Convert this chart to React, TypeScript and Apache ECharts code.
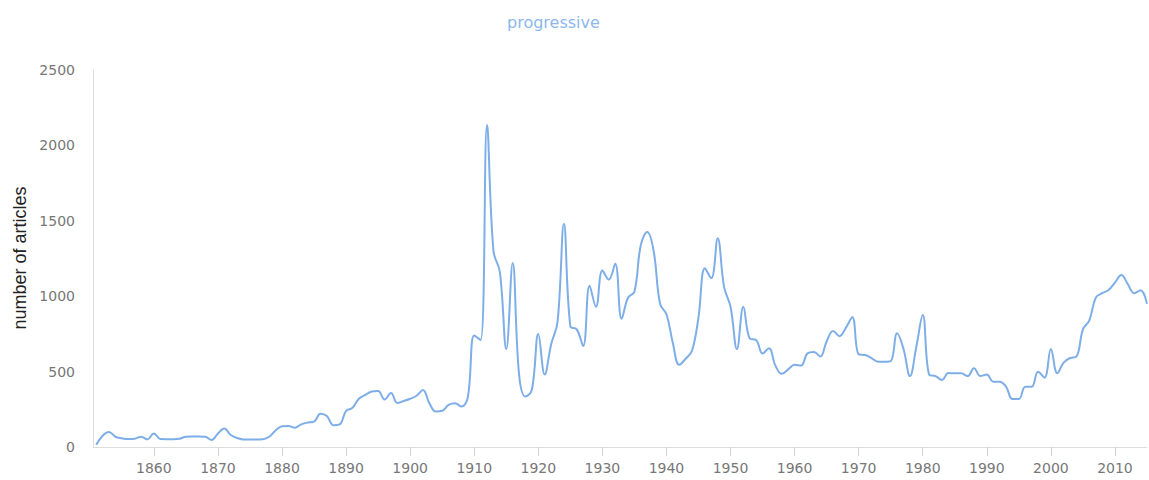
import React, { useEffect, useRef } from "react";
import * as echarts from "echarts";

// Number of articles per year, starting with 1851 (one value per year up to 2015)
const firstYear = 1851;
const articleCounts: number[] = [
  // 1851-1860
  15, 75, 100, 68, 58, 53, 55, 68, 50, 90,
  // 1861-1870
  53, 52, 52, 55, 68, 70, 70, 68, 46, 90,
  // 1871-1880
  122, 80, 60, 50, 50, 50, 52, 68, 110, 138,
  // 1881-1890
  140, 128, 150, 162, 168, 220, 205, 145, 150, 240,
  // 1891-1900
  260, 320, 345, 368, 372, 315, 358, 292, 305, 320,
  // 1901-1910
  340, 378, 290, 235, 240, 280, 290, 268, 330, 740,
  // 1911-1920
  710, 2135, 1300, 1160, 650, 1220, 480, 335, 380, 750,
  // 1921-1930
  480, 680, 830, 1480, 800, 780, 670, 1070, 930, 1170,
  // 1931-1940
  1110, 1215, 850, 990, 1030, 1340, 1425, 1300, 950, 880,
  // 1941-1950
  690, 545, 585, 640, 860, 1185, 1120, 1385, 1060, 930,
  // 1951-1960
  650, 930, 720, 710, 620, 655, 540, 485, 515, 545,
  // 1961-1970
  540, 620, 630, 600, 700, 770, 735, 790, 860, 615,
  // 1971-1980
  610, 590, 566, 566, 570, 754, 650, 470, 665, 875,
  // 1981-1990
  480, 470, 445, 490, 489, 489, 470, 522, 470, 480,
  // 1991-2000
  433, 433, 400, 318, 318, 400, 400, 499, 460, 650,
  // 2001-2010
  489, 560, 590, 600, 780, 840, 990, 1020, 1041, 1090,
  // 2011-2015
  1140, 1080, 1020, 1040, 950,
];

const tickYears: number[] = [1860, 1870, 1880, 1890, 1900, 1910, 1920, 1930, 1940, 1950, 1960, 1970, 1980, 1990, 2000, 2010];
const yTicks: number[] = [0, 500, 1000, 1500, 2000, 2500];

const chartTitle = "progressive";
const yAxisTitle = "number of articles";

export default function App() {
  const ref = useRef<HTMLDivElement>(null);

  useEffect(() => {
    if (!ref.current) return;
    const chart = echarts.init(ref.current, undefined, { renderer: "svg" });
    const seriesData = articleCounts.map((v, i) => [firstYear + i, v]);
    const labelFont = "DejaVu Sans";
    chart.setOption({
      animation: false,
      backgroundColor: "#ffffff",
      title: {
        text: chartTitle,
        left: 502,
        top: 9,
        textStyle: {
          color: "#8db7ec",
          fontSize: 16,
          fontWeight: "normal",
          fontFamily: labelFont,
        },
      },
      grid: { left: 93, right: 2, top: 70, bottom: 33, containLabel: false },
      xAxis: {
        type: "value",
        min: 1850.5,
        max: 2015,
        axisLine: { show: true, onZero: false, lineStyle: { color: "#dddddd", width: 1 } },
        axisTick: {
          show: true,
          length: 9,
          customValues: tickYears,
          lineStyle: { color: "#d0d0d0" },
        },
        axisLabel: {
          customValues: tickYears,
          margin: 14,
          color: "#777777",
          fontSize: 14,
          fontFamily: labelFont,
          formatter: (v: number) => String(v),
        },
        splitLine: { show: false },
      },
      yAxis: {
        type: "value",
        min: yTicks[0],
        max: yTicks[yTicks.length - 1],
        interval: 500,
        axisLine: { show: true, onZero: false, lineStyle: { color: "#dddddd", width: 1 } },
        axisTick: { show: false },
        axisLabel: {
          margin: 18,
          color: "#777777",
          fontSize: 14,
          fontFamily: labelFont,
          formatter: (v: number) => String(v),
        },
        splitLine: { show: false },
      },
      graphic: [
        {
          type: "text",
          x: 20,
          y: 258,
          rotation: Math.PI / 2,
          style: {
            text: yAxisTitle,
            fontSize: 18,
            fontFamily: "Liberation Sans",
            fill: "#222222",
            align: "center",
            verticalAlign: "middle",
          },
        },
      ],
      series: [
        {
          type: "line",
          data: seriesData,
          smooth: 0.4,
          showSymbol: false,
          symbol: "none",
          lineStyle: { color: "#7eaee8", width: 2 },
        },
      ],
    });
    return () => chart.dispose();
  }, []);

  return (
    <div
      ref={ref}
      style={{ position: "fixed", left: 0, top: 0, width: 1149, height: 480, background: "#fff" }}
    />
  );
}
